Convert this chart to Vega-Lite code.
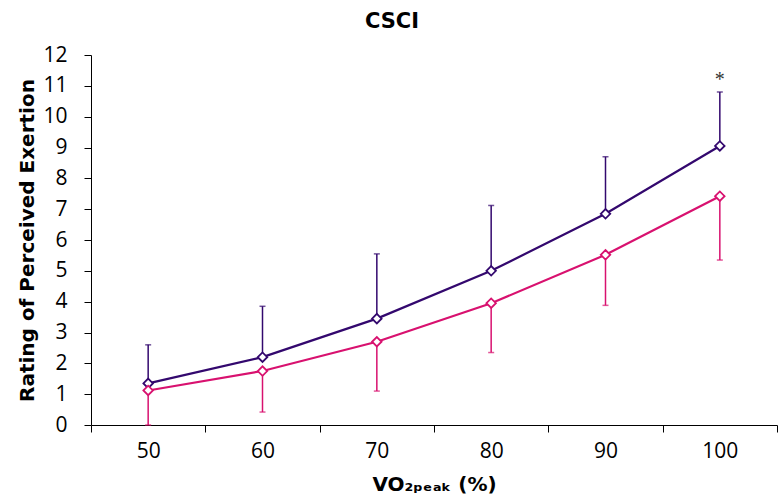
{
  "$schema": "https://vega.github.io/schema/vega-lite/v6.json",
  "autosize": "none",
  "width": 686,
  "height": 370,
  "padding": {"left": 91, "top": 55, "right": 3, "bottom": 72},
  "background": "white",
  "title": {"text": "CSCI", "font": "DejaVu Sans", "fontSize": 21, "fontWeight": "bold", "color": "black", "anchor": "middle", "dx": -42, "offset": 12},
  "config": {"view": {"stroke": null},
    "axisY": {"grid": false, "domainColor": "black", "tickColor": "black", "tickSize": 7, "labelFont": "Open Sans", "labelFontSize": 21, "labelColor": "black", "labelPadding": 17, "labelOverlap": false, "labelFlush": false, "titleFont": "DejaVu Sans", "titleFontSize": 20, "titleFontWeight": "bold", "titleColor": "black", "titlePadding": 5}
  },
  "data": {"values": [
    {"x": "50", "group": "A", "mean": 1.35, "err": 2.6},
    {"x": "60", "group": "A", "mean": 2.2, "err": 3.85},
    {"x": "70", "group": "A", "mean": 3.45, "err": 5.55},
    {"x": "80", "group": "A", "mean": 5.0, "err": 7.12},
    {"x": "90", "group": "A", "mean": 6.85, "err": 8.7},
    {"x": "100", "group": "A", "mean": 9.05, "err": 10.8},
    {"x": "50", "group": "B", "mean": 1.12, "err": 0.0},
    {"x": "60", "group": "B", "mean": 1.75, "err": 0.42},
    {"x": "70", "group": "B", "mean": 2.7, "err": 1.1},
    {"x": "80", "group": "B", "mean": 3.95, "err": 2.35},
    {"x": "90", "group": "B", "mean": 5.52, "err": 3.88},
    {"x": "100", "group": "B", "mean": 7.42, "err": 5.35}
  ]},
  "encoding": {
    "x": {"field": "x", "type": "ordinal", "sort": null,
      "scale": {"type": "band", "paddingInner": 0, "paddingOuter": 0},
      "axis": {"title": "VO₂ₚₑₐₖ (%)", "labelAngle": 0, "tickBand": "extent", "domainColor": "black", "tickColor": "black", "tickSize": 7, "labelFont": "Open Sans", "labelFontSize": 21, "labelColor": "black", "labelPadding": 8, "titleFont": "DejaVu Sans", "titleFontSize": 20, "titleFontWeight": "bold", "titleColor": "black", "titlePadding": 13}},
    "color": {"field": "group", "type": "nominal", "scale": {"domain": ["A", "B"], "range": ["#33086e", "#d8116f"]}, "legend": null}
  },
  "layer": [
    {"mark": {"type": "rule", "strokeWidth": 1.5}, "encoding": {"y": {"field": "mean", "type": "quantitative", "scale": {"domain": [0, 12]}, "axis": {"title": "Rating of Perceived Exertion", "values": [0,1,2,3,4,5,6,7,8,9,10,11,12]}}, "y2": {"field": "err"}}},
    {"mark": {"type": "tick", "orient": "horizontal", "size": 6, "thickness": 1.5}, "encoding": {"y": {"field": "err", "type": "quantitative", "axis": {"title": "Rating of Perceived Exertion", "values": [0,1,2,3,4,5,6,7,8,9,10,11,12]}}}},
    {"mark": {"type": "line", "strokeWidth": 2.2}, "encoding": {"y": {"field": "mean", "type": "quantitative", "axis": {"title": "Rating of Perceived Exertion", "values": [0,1,2,3,4,5,6,7,8,9,10,11,12]}}}},
    {"mark": {"type": "point", "shape": "diamond", "filled": true, "fill": "white", "strokeWidth": 1.8, "size": 90, "opacity": 1}, "encoding": {"y": {"field": "mean", "type": "quantitative", "axis": {"title": "Rating of Perceived Exertion", "values": [0,1,2,3,4,5,6,7,8,9,10,11,12]}}, "stroke": {"field": "group", "type": "nominal", "scale": {"domain": ["A", "B"], "range": ["#33086e", "#d8116f"]}, "legend": null}}},
    {"transform": [{"filter": "datum.x == '100' && datum.group == 'A'"}], "mark": {"type": "text", "text": "*", "fontSize": 20, "font": "Liberation Serif", "color": "#333333", "dy": 0}, "encoding": {"y": {"datum": 11.2, "type": "quantitative", "axis": {"title": "Rating of Perceived Exertion", "values": [0,1,2,3,4,5,6,7,8,9,10,11,12]}}, "color": {"value": "#333333"}}}
  ]
}
